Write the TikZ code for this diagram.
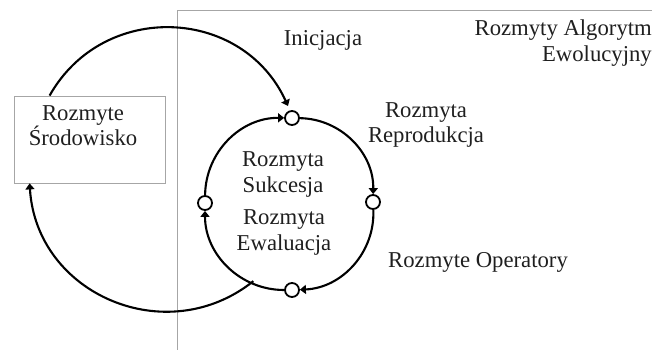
\documentclass[tikz,border=0pt]{standalone}
\usepackage{fontspec}
\setmainfont{Liberation Serif}
\usetikzlibrary{arrows.meta,calc}
\begin{document}
\begin{tikzpicture}[x=1pt,y=1pt,
  lbl/.style={font=\fontsize{22.7}{25.5}\selectfont, text=black!88, inner sep=0pt, align=center, anchor=base},
  flow/.style={line width=2.1pt, -{Triangle[width=9pt,length=6pt]}},
  frame/.style={draw=black!35, line width=0.8pt},
  knot/.style={circle, draw, line width=1.8pt, fill=white, minimum size=14pt, inner sep=0pt}]
\useasboundingbox (0,0) rectangle (652,349);
% outer frame of the algorithm
\draw[frame] (177,-10) -- (177,338.5) -- (662,338.5);
% environment box
\node[frame, rectangle, minimum width=151pt, minimum height=87pt, inner sep=0pt] (env) at (89.5,209.5) {};
\node[lbl] (envtxt) at (83,203.5) {Rozmyte\\Środowisko};
% labels
\node[lbl] (init) at (323,303.5) {Inicjacja};
\node[lbl, align=right, anchor=base east] (alg) at (652,287.5) {Rozmyty Algorytm\\Ewolucyjny};
\node[lbl] (repr) at (426,206.3) {Rozmyta\\Reprodukcja};
\node[lbl] (succ) at (283,157) {Rozmyta\\Sukcesja};
\node[lbl] (eval) at (284,99) {Rozmyta\\Ewaluacja};
\node[lbl] (oper) at (478,82) {Rozmyte Operatory};
% knots on the cycle
\coordinate (cc) at (289,145);
\node[knot] (kt) at (292,231) {};
\node[knot] (kr) at (373,147) {};
\node[knot] (kb) at (292,59) {};
\node[knot] (kl) at (205,146) {};
% cycle arcs
\draw[flow] (kt) to[bend left=45] (kr);
\draw[flow] (kr) to[bend left=45] (kb);
\draw[flow] (kb) to[bend left=45] (kl);
\draw[flow] (kl) to[bend left=45] (kt);
% outer arcs
\coordinate (s1) at ($(env.north west)+(36,0)$);
\coordinate (e1) at (288,243);
\draw[flow] (s1) to[out=60.6, in=114.6, looseness=1.171] (e1);
\coordinate (s2) at ($(cc)+(-114.8:85)$);
\coordinate (e2) at ($(env.south west)+(16,0)$);
\draw[flow] (s2) to[out=-141.4, in=-86.5, looseness=1.165] (e2);
\end{tikzpicture}
\end{document}
